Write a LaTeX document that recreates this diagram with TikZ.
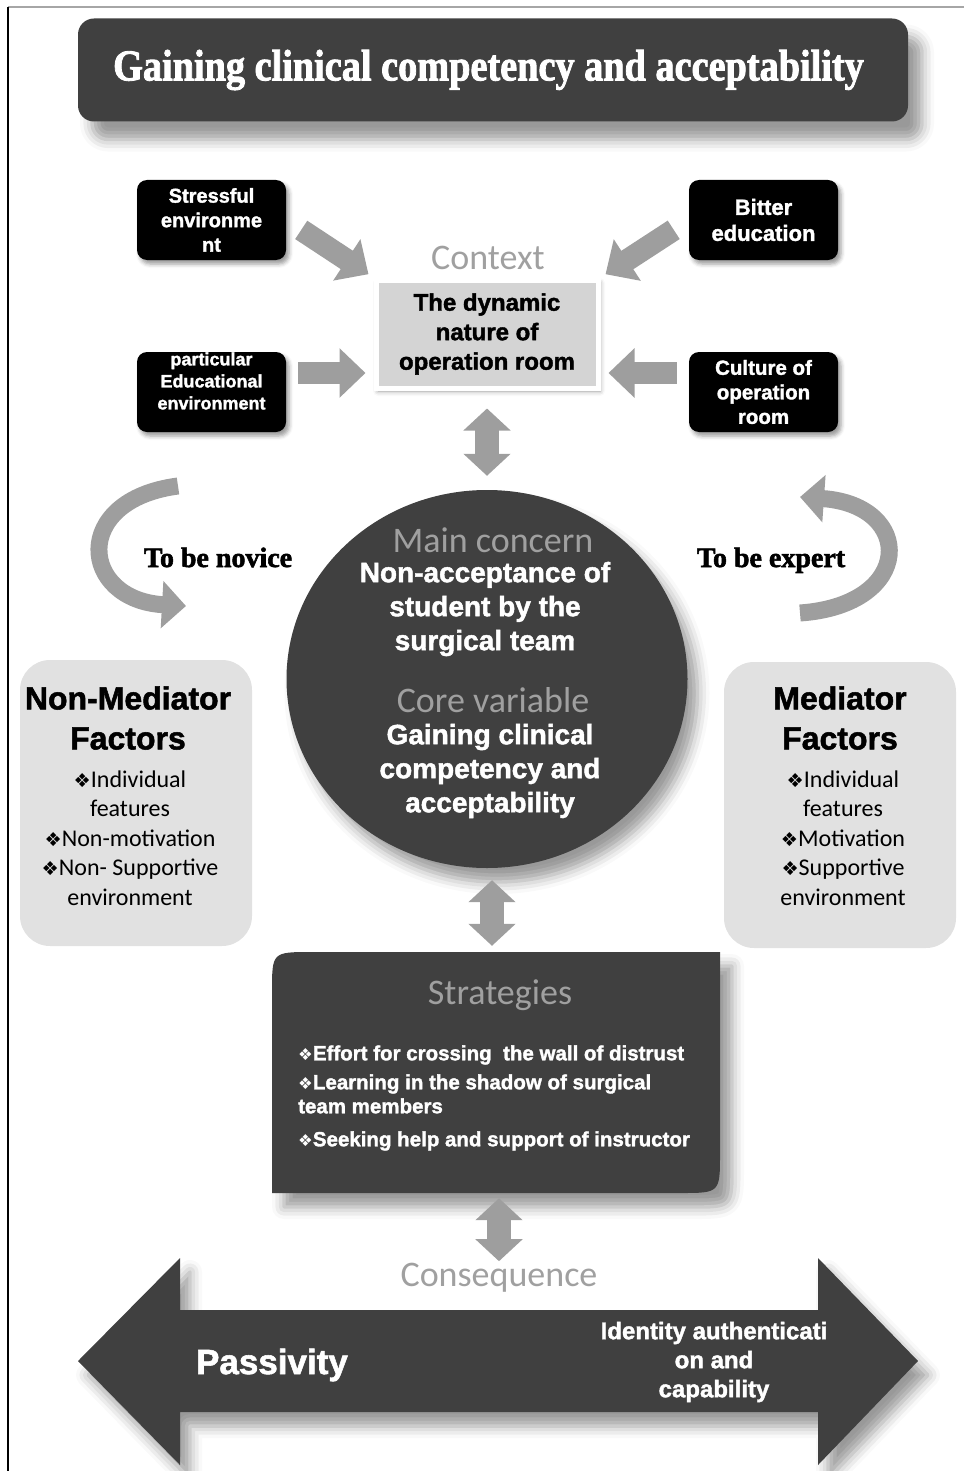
\documentclass[tikz,border=0pt]{standalone}
\usepackage{fontspec}
\setmainfont{Liberation Sans}
\newfontfamily\calibfont{Carlito}
\newfontfamily\heavyfont{Liberation Sans Bold}[FakeBold=1.6]
\newfontfamily\posterfont{Liberation Serif Bold}[FakeBold=2]
\newfontfamily\symfont{DejaVu Sans}
\usetikzlibrary{shapes.geometric,arrows.meta,shadows.blur,calc}
\definecolor{boxdark}{RGB}{64,64,64}
\definecolor{boxlight}{RGB}{225,225,225}
\definecolor{headgray}{RGB}{160,160,160}
\definecolor{arrowgray}{RGB}{158,158,158}
\definecolor{dynfill}{RGB}{212,212,212}
\newcommand{\dia}{{\symfont\scalebox{0.8}{\char"2756}}}

\begin{document}
\begin{tikzpicture}[x=1pt, y=-1pt,
    blackbox/.style={fill=black, rounded corners=10pt, minimum width=149pt, minimum height=80pt,
        inner sep=0pt, text=white, align=center,
        blur shadow={shadow xshift=3pt, shadow yshift=-4pt, shadow blur radius=4pt}},
    headline/.style={text=headgray, font=\calibfont\fontsize{36}{40}\selectfont, inner sep=0pt},
    whitetext/.style={text=white, align=center, inner sep=0pt, font=\heavyfont\fontsize{28}{34}\selectfont},
    factorbox/.style={fill=boxlight, rounded corners=30pt, minimum width=232pt, minimum height=286pt},
    factortitle/.style={align=center, inner sep=0pt, font=\heavyfont\fontsize{32}{40}\selectfont},
    factoritems/.style={align=center, inner sep=0pt, font=\calibfont\fontsize{24}{29.5}\selectfont},
    tobe/.style={inner sep=0pt, anchor=base, font=\posterfont\fontsize{28}{30}\selectfont},
    fat/.style={line width=22pt, draw=arrowgray, -{Triangle[width=48pt,length=26pt]}},
    fatboth/.style={line width=24pt, draw=arrowgray,
        {Triangle[width=46pt,length=22pt]}-{Triangle[width=46pt,length=22pt]}},
    curvearrow/.style={line width=17pt, draw=arrowgray, -{Triangle[width=46pt,length=24pt]}}]
    \useasboundingbox (0,0) rectangle (964,1471);
    % frame
    \draw[gray!70, line width=1.2pt] (964,7) -- (8,7);
    \draw[black, line width=1.5pt] (8,7) -- (8,1471);

    % title bar
    \node[fill=boxdark, rounded corners=16pt, minimum width=830pt, minimum height=103pt,
        blur shadow={shadow xshift=14pt, shadow yshift=-18pt, shadow blur radius=12pt},
        text=white, font=\posterfont\fontsize{44}{48}\selectfont] (title) at (493,70)
        {\hspace*{-9pt}\scalebox{0.87}[1]{Gaining clinical competency and acceptability}};

    % context
    \node[blackbox, font=\heavyfont\fontsize{20}{24.5}\selectfont] (stress) at (211.5,220) {Stressful\\environme\\nt};
    \node[blackbox, font=\heavyfont\fontsize{22}{26}\selectfont] (bitter) at (763.5,220) {Bitter\\education};
    \node[blackbox] (partic) at (211.5,392) {};
    \node[text=white, align=center, inner sep=0pt, font=\heavyfont\fontsize{18}{22}\selectfont]
        (partictext) at (211.5,381) {particular\\Educational\\environment};
    \node[blackbox, font=\heavyfont\fontsize{20.5}{24.5}\selectfont] (culture) at (763.5,392) {Culture of\\operation\\room};

    \node[headline] (context) at (488,258) {Context};
    \node[fill=dynfill, draw=white, line width=5pt, minimum width=222pt, minimum height=108pt,
        align=center, inner sep=0pt, font=\heavyfont\fontsize{24}{29.5}\selectfont,
        blur shadow={shadow xshift=2pt, shadow yshift=-3pt, shadow blur radius=5pt}]
        (dyn) at (487,334) {The dynamic\\nature of\\operation room};

    \draw[fat, shorten <=18pt, shorten >=6pt] (stress.east) -- (dyn.north west);
    \draw[fat, shorten <=18pt, shorten >=6pt] (bitter.west) -- (dyn.north east);
    \coordinate (pa) at ([yshift=19pt]partic.east);
    \coordinate (cu) at ([yshift=19pt]culture.west);
    \draw[fat, shorten <=12pt, shorten >=8pt] (pa) -- (pa -| dyn.west);
    \draw[fat, shorten <=12pt, shorten >=8pt] (cu) -- (cu -| dyn.east);

    % main concern
    \node[ellipse, fill=boxdark, minimum width=401pt, minimum height=378pt,
        blur shadow={shadow xshift=10pt, shadow yshift=-14pt, shadow blur radius=12pt}]
        (circ) at (487,679) {};
    \node[headline] (concern) at (493,540) {Main concern};
    \node[whitetext] (concerntext) at (485,609) {Non-acceptance of\\student by the\\surgical team};
    \node[headline] (core) at (493,700) {Core variable};
    \node[whitetext] (coretext) at (490,771) {Gaining clinical\\competency and\\acceptability};
    \draw[fatboth, shorten <=18pt, shorten >=14pt] (dyn.south) -- (circ.north);

    % novice / expert
    \node[tobe] (novice) at (218,567) {To be novice};
    \node[tobe] (expert) at (771,567) {To be expert};
    \coordinate (novs) at (178,486);
    \coordinate (nove) at (186,606);
    \coordinate (exps) at (800,613);
    \coordinate (expe) at (800,497);
    \draw[curvearrow] (novs) .. controls (70,500) and (80,600) .. (nove);
    \draw[curvearrow] (exps) .. controls (915,605) and (915,505) .. (expe);

    % factors
    \node[factorbox] (lfac) at (136,803) {};
    \node[factortitle] (ltitle) at (128,718) {Non-Mediator\\Factors};
    \node[factoritems] (litems) at (130,838) {\dia Individual\\features\\\dia Non-motivation\\\dia Non- Supportive\\environment};
    \node[factorbox] (rfac) at (840,805) {};
    \node[factortitle] (rtitle) at (840,718) {Mediator\\Factors};
    \node[factoritems] (ritems) at (843,838) {\dia Individual\\features\\\dia Motivation\\\dia Supportive\\environment};

    % strategies
    \node[minimum width=448pt, minimum height=241pt, inner sep=0pt] (strat) at (496,1072.5) {};
    \fill[boxdark, blur shadow={shadow xshift=12pt, shadow yshift=-14pt, shadow blur radius=12pt}]
        (272,1193) -- (272,992) .. controls (272,952) .. (312,952) -- (720,952)
        -- (720,1153) .. controls (720,1193) .. (680,1193) -- cycle;
    \node[headline] (strattitle) at (500,995) {Strategies};
    \node[anchor=west, text=white, align=left, inner sep=0pt, font=\heavyfont\fontsize{20.5}{24}\selectfont]
        (stratitems) at (298,1098)
        {\dia Effort for crossing\ \ the wall of distrust\\[5pt]
         \dia Learning in the shadow of surgical\\
         team members\\[9pt]
         \dia Seeking help and support of instructor};
    \coordinate (sc) at ([xshift=5pt]circ.south);
    \draw[fatboth, shorten <=12pt, shorten >=6pt] (sc) -- (sc |- strat.north);

    % consequence
    \node[headline] (conseq) at (499,1278) {Consequence};
    \draw[fatboth, shorten <=5pt, shorten >=2pt] (strat.south -| conseq.north) -- (conseq.north);
    \fill[boxdark, blur shadow={shadow xshift=10pt, shadow yshift=-14pt, shadow blur radius=12pt}]
        (78,1361) -- (180,1258) -- (180,1310) -- (818,1310) -- (818,1258) -- (918,1361)
        -- (818,1465) -- (818,1412) -- (180,1412) -- (180,1465) -- cycle;
    \node[text=white, inner sep=0pt, font=\heavyfont\fontsize{35}{40}\selectfont] (passive) at (272,1365) {Passivity};
    \node[text=white, align=center, inner sep=0pt, font=\heavyfont\fontsize{24}{29}\selectfont]
        (identity) at (714,1362) {Identity authenticati\\on and\\capability};
\end{tikzpicture}
\end{document}
